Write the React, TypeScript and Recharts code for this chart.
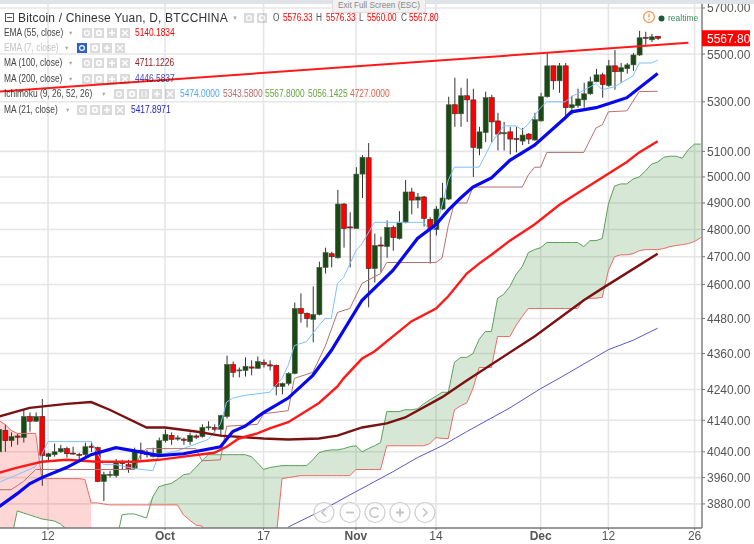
import React from "react"
import { Area, Bar, CartesianGrid, ComposedChart, Line, XAxis, YAxis } from "recharts"

const FIRST_DAY = -27 // days counted from 1 Oct
const LAST_DAY = 87

const opens = [4040,4108,4075,4090,4085,4152,4137,4152,4025,4031,4040,4050,4036,4032,4031,4058,4053,3948,3968,3966,4009,4000,3988,4045,4037,4025,4034,4075,4092,4080,4080,4072,4090,4088,4116,4117,4111,4152,4323,4302,4303,4315,4310,4330,4322,4320,4250,4260,4293,4515,4498,4477,4494,4661,4711,4696,4896,4810,4804,5011,5075,4657,4743,4737,4808,4767,4827,4942,4911,4923,4838,4800,4877,4915,5288,5251,5325,5308,5112,5175,5317,5222,5170,5178,5151,5141,5169,5145,5222,5321,5450,5387,5450,5276,5284,5308,5333,5383,5412,5367,5450,5425,5438,5454,5496,5572,5561,5576.33]
const highs = [4127,4127,4101,4098,4174,4165,4165,4209,4037,4066,4062,4056,4056,4037,4069,4072,4056,3978,3981,4018,4015,4015,4053,4069,4046,4053,4085,4111,4101,4092,4085,4101,4095,4127,4137,4127,4158,4353,4333,4313,4347,4337,4350,4340,4337,4323,4263,4297,4536,4568,4501,4593,4682,4733,4718,4950,4900,4865,5038,5085,5133,4785,4774,4834,4815,4869,4988,4958,4938,4927,4846,4888,4977,5321,5400,5358,5396,5354,5198,5342,5329,5255,5218,5198,5198,5194,5173,5255,5337,5504,5452,5462,5462,5325,5354,5379,5404,5437,5421,5475,5517,5462,5462,5504,5600,5596,5587,5576.33]
const lows = [4022,4040,4056,4062,4069,4104,4135,3935,4009,4025,4037,4022,4031,4012,4025,4040,3946,3889,3960,3960,3985,3975,3985,4015,4022,4022,4031,4069,4062,4075,4062,4062,4080,4085,4108,4101,4088,4146,4280,4280,4283,4287,4310,4313,4303,4221,4224,4253,4290,4466,4449,4398,4491,4639,4661,4693,4733,4661,4804,4919,4519,4607,4643,4696,4722,4763,4823,4857,4880,4811,4675,4778,4873,4911,5198,5198,5218,5000,5085,5137,5137,5104,5104,5088,5096,5125,5129,5143,5220,5317,5350,5337,5235,5247,5276,5276,5329,5381,5317,5362,5350,5379,5417,5429,5492,5539,5552,5560]
const closes = [4111,4075,4088,4086,4152,4137,4152,4028,4034,4040,4050,4034,4033,4030,4056,4054,3948,3969,3970,4006,4003,3988,4043,4041,4031,4034,4075,4095,4079,4084,4076,4092,4086,4117,4119,4111,4155,4323,4297,4305,4317,4311,4333,4323,4318,4250,4260,4293,4515,4498,4480,4494,4661,4715,4700,4896,4804,4806,5011,5077,4657,4741,4739,4808,4770,4827,4942,4911,4923,4842,4804,4877,4919,5288,5251,5325,5308,5116,5178,5317,5218,5169,5175,5149,5147,5165,5149,5227,5321,5450,5387,5450,5276,5288,5312,5333,5383,5412,5371,5450,5425,5442,5454,5496,5570,5568,5574,5567.8]

const spanA = [3757,3757,3772,3859,3853,3847,3841,3835,3832,3829,3820,3805,3757,3757,3757,3757,3757,3757,3757,3757,3847,3850,3850,3844,3838,3901,3932,3938,3942,3954,3969,3972,3991,4012,4031,4031,4031,4031,4031,4031,4031,4025,4006,3985,3991,3994,3997,3997,3997,3997,3997,4015,4037,4043,4046,4046,4050,4056,4059,4040,4050,4059,4069,4168,4168,4168,4174,4174,4177,4193,4206,4218,4231,4231,4330,4347,4347,4360,4408,4435,4435,4551,4565,4593,4636,4664,4715,4726,4733,4752,4752,4752,4752,4752,4752,4737,4759,4759,4767,4896,4965,4973,4973,4992,5000,5023,5050,5058,5077,5081,5081,5073,5108,5129,5129]
const spanB = [4140,4127,4108,4098,4098,4098,4098,3957,3957,3957,3957,3957,3957,3957,3954,3883,3883,3880,3877,3877,3877,3877,3877,3877,3877,3877,3877,3877,3877,3877,3847,3832,3817,3814,3772,3772,3772,3772,3772,3772,3772,3772,3772,3772,3772,3772,3957,3960,3963,3966,3966,3966,3966,3966,3966,3966,3966,3966,3985,3985,3985,3985,3985,4059,4059,4059,4059,4059,4059,4059,4066,4085,4082,4082,4174,4187,4196,4243,4313,4313,4313,4418,4418,4418,4456,4487,4515,4515,4515,4515,4515,4515,4515,4515,4515,4547,4551,4551,4554,4650,4700,4707,4707,4711,4722,4726,4726,4726,4730,4737,4741,4744,4748,4756,4770]

// [day, price] readings, joined straight between them
const ema55 = [[-27,3975],[-24,3991],[-20,4009],[-16,4015],[-11,4009],[-5,4009],[-1,4015],[3,4025],[8,4037],[10,4056],[12,4082],[15,4098],[17,4114],[20,4134],[23,4171],[25,4196],[28,4250],[29,4277],[32,4343],[34,4367],[40,4470],[44,4515],[46,4558],[49,4639],[51,4675],[53,4707],[56,4759],[60,4819],[64,4892],[66,4923],[75,5058],[77,5096],[80,5140.18]]
const ma21 = [[-27,3871],[-24,3911],[-22,3941],[-20,3960],[-16,3991],[-12,4031],[-8,4053],[-5,4043],[-1,4028],[3,4034],[9,4056],[11,4104],[13,4121],[16,4165],[20,4212],[24,4287],[27,4370],[32,4544],[37,4650],[41,4767],[44,4819],[46,4873],[48,4919],[50,4961],[53,4996],[56,5065],[60,5125],[65,5235],[66,5259],[70,5276],[73,5300],[75,5317],[80,5417.9]]
const ma100 = [[-27,4152],[-22,4180],[-16,4193],[-12,4199],[-9,4174],[-3,4117],[0,4117],[5,4104],[9,4091],[16,4082],[20,4079],[25,4082],[28,4091],[32,4117],[36,4130],[39,4149],[45,4215],[49,4270],[60,4418],[68,4544],[71,4586],[80,4711.12]]
const ma200 = [[20,3811],[25,3856],[30,3907],[37,3978],[41,4022],[45,4059],[49,4104],[56,4180],[61,4243],[64,4277],[72,4373],[76,4405],[80,4446.58]]
const conversion = [[-27,3945],[-24,3969],[-21,3994],[-19,4072],[-12,4072],[-10,4000],[-8,4000],[-5,3988],[-2,3981],[-1,4031],[2,4043],[7,4079],[9,4127],[10,4199],[11,4212],[13,4221],[17,4231],[19,4277],[20,4320],[21,4387],[23,4401],[25,4456],[26,4480],[27,4480],[28,4604],[29,4625],[31,4722],[32,4748],[34,4827],[42,4827],[43,4796],[44,4808],[45,4892],[46,4988],[47,5038],[51,5038],[53,5133],[55,5202],[57,5202],[58,5186],[59,5210],[61,5276],[62,5300],[65,5300],[66,5321],[70,5375],[71,5350],[73,5362],[76,5408],[77,5462],[79,5462],[80,5474]]
const base = [[-27,3923],[-25,3923],[-23,3948],[-21,3985],[-5,3985],[-4,4031],[-3,4050],[5,4050],[6,4012],[9,4015],[10,4121],[15,4127],[16,4161],[20,4171],[21,4277],[24,4297],[26,4384],[28,4501],[30,4515],[32,4604],[35,4639],[36,4679],[44,4679],[45,4696],[46,4815],[47,4900],[49,4900],[50,4961],[58,4961],[59,5008],[60,5038],[61,5038],[62,5096],[68,5096],[70,5194],[71,5206],[72,5259],[75,5263],[77,5342],[80,5343.58]]
const trendline = [[-27,5342],[85,5548]]

const xTicks = [-19, 0, 16, 31, 44, 61, 72, 86]
const xLabels = ["12", "Oct", "17", "Nov", "14", "Dec", "12", "26"]
const yGrid = [5700, 5500, 5300, 5100, 5000, 4900, 4800, 4700, 4600, 4480, 4360, 4240, 4140, 4040, 3960, 3880]
const LAST_PRICE = 5567.8
const yTicks = [...yGrid, LAST_PRICE]

const FONT = "'Liberation Sans', sans-serif"
const GREEN = "#1a4a14"

const rows: any[] = []
for (let d = FIRST_DAY; d <= LAST_DAY; d++) {
  const i = d - FIRST_DAY
  const row: any = { day: d, spanA: spanA[i], spanB: spanB[i] }
  if (i < opens.length) {
    row.open = opens[i]
    row.close = closes[i]
    row.range = [lows[i], highs[i]]
  }
  if (d <= -12) row.redCloud = [spanA[i], spanB[i]]
  if (d === -3) row.greenCloud = [spanB[i], spanB[i]]
  if (d >= -2) row.greenCloud = [spanB[i], spanA[i]]
  rows.push(row)
}
const addPoints = (key: string, points: number[][]) => {
  points.forEach(([d, v]) => {
    rows[d - FIRST_DAY][key] = v
  })
}
addPoints("ema55", ema55)
addPoints("ma21", ma21)
addPoints("ma100", ma100)
addPoints("ma200", ma200)
addPoints("conversion", conversion)
addPoints("base", base)
addPoints("trendline", trendline)

// body position comes from the bar's own low-high geometry on the log axis
function Candle(props: any) {
  const { x, y, width, height, payload } = props
  if (!payload || payload.open == null || !isFinite(y)) return null
  const [low, high] = payload.range
  const h = Math.abs(height)
  const at = (v: number) => y + (h * Math.log(high / v)) / Math.log(high / low)
  const top = at(Math.max(payload.open, payload.close))
  const bottom = at(Math.min(payload.open, payload.close))
  const up = payload.close >= payload.open
  const cx = x + width / 2
  return (
    <g>
      <line x1={cx} x2={cx} y1={y} y2={y + h} stroke={up ? "#333" : "#3a3030"} strokeWidth={1} />
      <rect
        x={cx - 2.5}
        y={top}
        width={5}
        height={Math.max(bottom - top, 1)}
        fill={up ? GREEN : "#ff0000"}
        stroke={up ? "#4a5a44" : "#442222"}
        strokeWidth={0.6}
      />
    </g>
  )
}

function DayTick({ x, y, payload }: any) {
  const label = xLabels[xTicks.indexOf(payload.value)]
  const bold = label === "Oct" || label === "Nov" || label === "Dec"
  return (
    <text x={x} y={y + 10} textAnchor="middle" fontFamily={FONT} fontSize={12} fontWeight={bold ? 700 : 400} fill="#555">
      {label}
    </text>
  )
}

function PriceTick({ x, y, payload }: any) {
  const isLast = payload.value === LAST_PRICE
  return (
    <g>
      {isLast && <rect x={x - 5} y={y - 8} width={48} height={16} fill="#ff0000" />}
      <text x={x} y={y + 4.5} fontFamily={FONT} fontSize={12} fill={isLast ? "#fff" : "#555"}>
        {payload.value.toFixed(2)}
      </text>
    </g>
  )
}

function SmallButton({ left, top, glyph, active }: any) {
  const bg = active ? "#2d5fc8" : "#dadada"
  return (
    <svg style={{ position: "absolute", left, top }} width={10} height={10}>
      <rect width={10} height={10} fill={bg} />
      {glyph === "eye" && <circle cx={5} cy={5} r={2.4} fill="none" stroke="#fff" strokeWidth={1.2} />}
      {glyph === "gear" && <circle cx={5} cy={5} r={2.3} fill="none" stroke="#fff" strokeWidth={1.8} />}
      {glyph === "plus" && <path d="M5 2v6M2 5h6" stroke="#fff" strokeWidth={1.6} />}
      {glyph === "cross" && <path d="M2.2 2.2l5.6 5.6M7.8 2.2l-5.6 5.6" stroke="#fff" strokeWidth={1.4} />}
      {glyph === "braces" && <path d="M4 2Q2.5 2 3 5Q2.5 8 4 8M6 2Q7.5 2 7 5Q7.5 8 6 8" fill="none" stroke="#fff" />}
    </svg>
  )
}

// the reference text is narrow for its height, so it is squeezed a little
function Label({ left, top, color, size, weight, children, spacing, squeeze }: any) {
  return (
    <span
      style={{
        position: "absolute",
        left,
        top,
        color,
        fontSize: size || 10,
        fontWeight: weight || 400,
        letterSpacing: spacing || 0,
        lineHeight: "14px",
        whiteSpace: "nowrap",
        transform: squeeze ? `scaleX(${squeeze})` : undefined,
        transformOrigin: "left center",
      }}
    >
      {children}
    </span>
  )
}

const legendRows = [
  { name: "EMA (55, close)", top: 26, arrow: 68, icons: 81.5, step: 12.7, glyphs: ["eye", "gear", "plus", "cross"], color: "#444", values: [[135, "5140.1834", "#ff0000"]] },
  { name: "EMA (7, close)", top: 41, arrow: 64, icons: 77, step: 12.7, glyphs: ["eye", "gear", "plus", "cross"], color: "#c4c4c4", values: [], active: true },
  { name: "MA (100, close)", top: 56, arrow: 68, icons: 81.5, step: 12.7, glyphs: ["eye", "gear", "plus", "cross"], color: "#444", values: [[135, "4711.1226", "#8b1a1a"]] },
  { name: "MA (200, close)", top: 72, arrow: 68, icons: 81.5, step: 12.7, glyphs: ["eye", "gear", "plus", "cross"], color: "#444", values: [[135, "4446.5837", "#4a4ab4"]] },
  {
    name: "Ichimoku (9, 26, 52, 26)", top: 87, arrow: 101, icons: 114, step: 12.7, glyphs: ["eye", "gear", "braces", "plus", "cross"], color: "#444",
    values: [[180, "5474.0000", "#4ea8ee"], [222.5, "5343.5800", "#b56a6a"], [265, "5567.8000", "#63a63f"], [307.5, "5056.1425", "#63a63f"], [350, "4727.0000", "#e0604a"]],
  },
  { name: "MA (21, close)", top: 103, arrow: 65, icons: 77, step: 12.7, glyphs: ["eye", "gear", "plus", "cross"], color: "#444", values: [[131, "5417.8971", "#2222cc"]] },
]

const navCentres = [324, 350, 375, 400, 425]

export default function App() {
  return (
    <div style={{ position: "absolute", left: 0, top: 0, width: 754, height: 544, overflow: "hidden", background: "#fff", fontFamily: FONT }}>
      {/* legend sits under the chart: the trend line runs across it */}
      <div style={{ position: "absolute", left: 0, top: 0, width: 754, height: 125 }}>
        <svg style={{ position: "absolute", left: 5, top: 13 }} width={9} height={9}>
          <rect x={0.5} y={0.5} width={8} height={8} fill="#fff" stroke="#555" />
          <path d="M2 4.5h5" stroke="#555" />
        </svg>
        <Label left={18} top={11} color="#333" size={12} spacing={0.17}>
          Bitcoin / Chinese Yuan, D, BTCCHINA
        </Label>
        <Label left={232} top={11} color="#aaa" size={6}>▼</Label>
        <SmallButton left={244} top={13} glyph="eye" />
        <SmallButton left={257} top={13} glyph="gear" />
        <Label left={273} top={11} color="#555" squeeze={0.83}>O</Label>
        <Label left={283} top={11} color="#ff0000" squeeze={0.82}>5576.33</Label>
        <Label left={316} top={11} color="#555" squeeze={0.83}>H</Label>
        <Label left={326} top={11} color="#ff0000" squeeze={0.82}>5576.33</Label>
        <Label left={359} top={11} color="#555" squeeze={0.83}>L</Label>
        <Label left={367} top={11} color="#ff0000" squeeze={0.82}>5560.00</Label>
        <Label left={401} top={11} color="#555" squeeze={0.83}>C</Label>
        <Label left={409} top={11} color="#ff0000" squeeze={0.82}>5567.80</Label>
        {legendRows.map((r) => (
          <div key={r.name}>
            <Label left={4} top={r.top} color={r.color} squeeze={0.84}>{r.name}</Label>
            <Label left={r.arrow} top={r.top} color="#aaa" size={5.5}>▼</Label>
            {r.glyphs.map((g, i) => (
              <SmallButton key={g} left={r.icons + i * r.step} top={r.top + 2} glyph={g} active={r.active && i === 0} />
            ))}
            {r.values.map((v: any) => (
              <Label key={v[1]} left={v[0]} top={r.top} color={v[2]} squeeze={0.84}>{v[1]}</Label>
            ))}
          </div>
        ))}
      </div>

      <div style={{ position: "absolute", left: 0, top: 0, mixBlendMode: "multiply" }}>
        <ComposedChart width={754} height={544} data={rows} margin={{ top: 4, right: 0, bottom: 0, left: 0 }}>
          <CartesianGrid stroke="#e6e6e6" strokeWidth={1.6} horizontalValues={yGrid} verticalValues={xTicks} />
          <XAxis
            dataKey="day"
            type="number"
            domain={[-26.8, 87.2]}
            allowDataOverflow
            ticks={xTicks}
            interval={0}
            height={16}
            tick={DayTick}
            tickSize={2}
            tickMargin={0}
            axisLine={{ stroke: "#777", strokeWidth: 1.4 }}
            tickLine={{ stroke: "#777" }}
          />
          <YAxis
            orientation="right"
            scale="log"
            domain={[3808.2, 5717.7]}
            allowDataOverflow
            ticks={yTicks}
            interval={0}
            width={52}
            tick={PriceTick}
            tickSize={3}
            tickMargin={2}
            axisLine={{ stroke: "#777", strokeWidth: 1.4 }}
            tickLine={{ stroke: "#777" }}
          />
          <Area dataKey="redCloud" stroke="none" fill="#ff3030" fillOpacity={0.2} isAnimationActive={false} />
          <Area dataKey="greenCloud" stroke="none" fill="#3c8c3c" fillOpacity={0.21} isAnimationActive={false} />
          <Line dataKey="spanA" stroke="#5aa05a" strokeWidth={1} dot={false} isAnimationActive={false} />
          <Line dataKey="spanB" stroke="#ee6a62" strokeWidth={1} dot={false} isAnimationActive={false} />
          <Line dataKey="conversion" stroke="#7cc2ff" strokeWidth={1} dot={false} connectNulls isAnimationActive={false} />
          <Line dataKey="base" stroke="#b57070" strokeWidth={1} dot={false} connectNulls isAnimationActive={false} />
          <Line dataKey="ma200" stroke="#5a5ac4" strokeWidth={1} dot={false} connectNulls isAnimationActive={false} />
          <Line dataKey="ma100" stroke="#7a1212" strokeWidth={2.4} dot={false} connectNulls isAnimationActive={false} />
          <Line dataKey="ema55" stroke="#ff1a1a" strokeWidth={2.4} dot={false} connectNulls isAnimationActive={false} />
          <Bar dataKey="range" barSize={5} shape={Candle} isAnimationActive={false} />
          <Line dataKey="ma21" stroke="#0808ee" strokeWidth={3.2} dot={false} connectNulls isAnimationActive={false} />
          <Line dataKey="trendline" stroke="#ff1a1a" strokeWidth={2} dot={false} connectNulls isAnimationActive={false} />
        </ComposedChart>
      </div>

      {/* window chrome and on-chart controls */}
      <div style={{ position: "absolute", left: 0, top: 0, width: 754, height: 4, background: "#dfe3e8" }} />
      <div style={{ position: "absolute", left: 332, top: 0, width: 92, height: 12, background: "#f1f1f1", border: "1px solid #ddd", borderTop: "none", borderRadius: "0 0 3px 3px", color: "#888", fontSize: 8.2, lineHeight: "12px", textAlign: "center", whiteSpace: "nowrap" }}>
        Exit Full Screen (ESC)
      </div>
      <svg style={{ position: "absolute", left: 642, top: 10 }} width={14} height={14}>
        <circle cx={7} cy={7} r={5.4} fill="none" stroke="#f0914a" strokeWidth={1.2} />
        <path d="M7 3.8v3.8M7 8.8v1.4" stroke="#f0914a" strokeWidth={1.2} />
      </svg>
      <svg style={{ position: "absolute", left: 658, top: 15 }} width={7} height={7}>
        <circle cx={3.5} cy={3.5} r={3} fill="#1e5a3a" />
      </svg>
      <Label left={668} top={11} color="#3d8a60" size={8.5}>realtime</Label>
      <svg style={{ position: "absolute", left: 0, top: 490 }} width={754} height={40}>
        {navCentres.map((cx, i) => (
          <g key={cx}>
            <circle cx={cx} cy={22.5} r={10} fill="#fff" fillOpacity={0.55} stroke="#cfcfcf" strokeWidth={1.2} />
            {i === 0 && <path d={`M${cx + 2} 18.5l-4 4 4 4`} fill="none" stroke="#c4c4c4" strokeWidth={1.5} />}
            {i === 1 && <path d={`M${cx - 4} 22.5h8`} stroke="#c4c4c4" strokeWidth={1.8} />}
            {i === 2 && <path d={`M${cx + 3.5} 19.5A4.8 4.8 0 1 0 ${cx + 3.5} 25.5`} fill="none" stroke="#c4c4c4" strokeWidth={1.5} />}
            {i === 3 && <path d={`M${cx - 4} 22.5h8M${cx} 18.5v8`} stroke="#c4c4c4" strokeWidth={1.8} />}
            {i === 4 && <path d={`M${cx - 2} 18.5l4 4-4 4`} fill="none" stroke="#c4c4c4" strokeWidth={1.5} />}
          </g>
        ))}
      </svg>
    </div>
  )
}
